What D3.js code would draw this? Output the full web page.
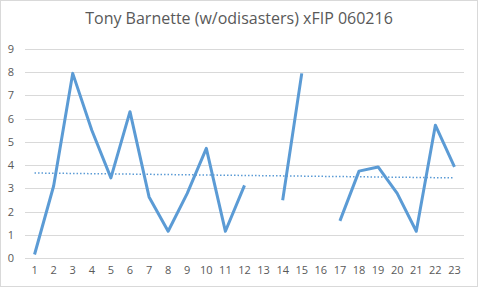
<!DOCTYPE html>
<html>
<head>
<meta charset="utf-8">
<script src="https://cdn.jsdelivr.net/npm/d3@7"></script>
<style>
  body { margin: 0; background: #fff; }
  text { font-family: "Open Sans", "Noto Sans", sans-serif; fill: #595959; }
</style>
</head>
<body>
<div id="chart"></div>
<script>
const W = 478, H = 287;

// game numbers and xFIP values (null = no value)
const games = d3.range(1, 24);
const xfip = [0.15, 3.1, 7.95, 5.5, 3.45, 6.3, 2.63, 1.15, 2.78, 4.72, 1.15, 3.13,
              null, 2.49, 7.95, null, 1.6, 3.74, 3.92, 2.78, 1.15, 5.72, 3.92];
const yTicks = [0, 1, 2, 3, 4, 5, 6, 7, 8, 9];
// linear trend line, value at first and last game
const trendX = [1, 23];
const trendY = [3.66, 3.45];

const margin = {top: 49, right: 14, bottom: 29, left: 25};
const iw = 464 - margin.left, ih = 258 - margin.top;

const svg = d3.select("#chart").append("svg")
    .attr("width", W).attr("height", H);

svg.append("rect")
    .attr("x", 0.5).attr("y", 0.5)
    .attr("width", W - 1).attr("height", H - 1)
    .attr("fill", "#fff").attr("stroke", "#d9d9d9");

svg.append("text")
    .attr("x", 239).attr("y", 24)
    .attr("text-anchor", "middle")
    .style("font-size", "16px")
    .text("Tony Barnette (w/odisasters) xFIP 060216");

const g = svg.append("g")
    .attr("transform", "translate(" + margin.left + "," + margin.top + ")");

const x = d3.scaleBand().domain(games).range([0, iw]);
const y = d3.scaleLinear().domain([0, 9]).range([ih, 0]);
const cx = d => x(d) + x.bandwidth() / 2;

// grid
g.selectAll(".grid")
    .data(yTicks)
    .enter().append("line")
    .attr("x1", 0).attr("x2", iw)
    .attr("y1", d => Math.round(y(d)) + 0.5)
    .attr("y2", d => Math.round(y(d)) + 0.5)
    .attr("stroke", "#d9d9d9");

const yAxis = g.append("g")
    .call(d3.axisLeft(y).tickValues(yTicks).tickSize(0).tickPadding(11));
yAxis.select(".domain").remove();
yAxis.selectAll("text").style("font-size", "11px").attr("fill", "#595959");

const xAxis = g.append("g")
    .attr("transform", "translate(0," + ih + ")")
    .call(d3.axisBottom(x).tickSize(0).tickPadding(8));
xAxis.select(".domain").remove();
xAxis.selectAll("text").style("font-size", "11px").attr("fill", "#595959");

const line = d3.line()
    .defined((d, i) => xfip[i] !== null)
    .x((d, i) => cx(games[i]))
    .y((d, i) => y(xfip[i]));

g.append("path")
    .datum(xfip)
    .attr("fill", "none")
    .attr("stroke", "#5b9bd5")
    .attr("stroke-width", 3)
    .attr("stroke-linejoin", "round")
    .attr("d", line);

g.append("line")
    .attr("x1", cx(trendX[0])).attr("y1", y(trendY[0]))
    .attr("x2", cx(trendX[1])).attr("y2", y(trendY[1]))
    .attr("stroke", "#5b9bd5")
    .attr("stroke-width", 1.5)
    .attr("stroke-dasharray", "1.5 2");
</script>
</body>
</html>
